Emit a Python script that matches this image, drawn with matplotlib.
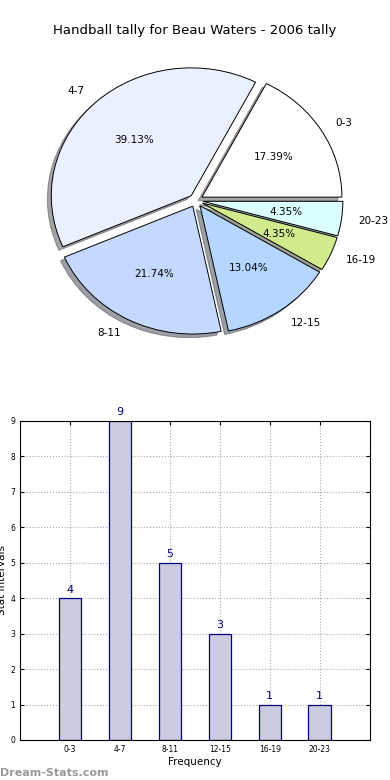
import matplotlib
matplotlib.use("Agg")
import matplotlib.pyplot as plt
import numpy as np

# data
intervals = ["0-3", "4-7", "8-11", "12-15", "16-19", "20-23"]
counts = [4, 9, 5, 3, 1, 1]
pie_colors = ["#FFFFFF", "#EAF0FF", "#C5D8FF", "#B5D6FF", "#D0EA8C", "#DCFFFF"]

fig = plt.figure(figsize=(3.9, 7.8), dpi=100)

# pie on top (old-style, not forced round)
ax1 = fig.add_axes([0.054, 0.538, 0.897, 0.41])
wedges, texts, autotexts = ax1.pie(counts, labels=intervals, colors=pie_colors,
                                   explode=[0.05] * 6, autopct="%.2f%%", shadow=True,
                                   startangle=0, counterclock=True, labeldistance=1.12,
                                   wedgeprops={"edgecolor": "black", "linewidth": 0.7},
                                   textprops={"fontsize": 7.5})
ax1.set_aspect("auto")
ax1.set_xlim(-1.25, 1.25)
ax1.set_ylim(-1.25, 1.25)
fig.text(0.5, 0.957, "Handball tally for Beau Waters - 2006 tally", ha="center", fontsize=9.5)

# bar chart below
ax2 = fig.add_axes([0.051, 0.0513, 0.897, 0.409])
x = np.arange(1, len(counts) + 1)
ax2.bar(x, counts, width=0.45, color="#CCCCE0", edgecolor="#000080", linewidth=0.9, zorder=2)
for xi, c in zip(x, counts):
    ax2.text(xi, c + 0.1, str(c), ha="center", va="bottom", color="#000080", fontsize=8)
ax2.set_xlim(0, 7)
ax2.set_ylim(0, 9)
ax2.set_xticks(x)
ax2.set_xticklabels(intervals)
ax2.set_yticks(range(10))
ax2.tick_params(labelsize=5.5, direction="in", top=True, right=True, length=3)
ax2.grid(True, linestyle=":", color="#AAAAAA", linewidth=0.8, zorder=0)
ax2.set_xlabel("Frequency", fontsize=7.5, labelpad=2)
ax2.set_ylabel("Stat Intervals", fontsize=7.5, labelpad=2)

fig.text(0.0, 0.005, "Dream-Stats.com", color="#999999", fontsize=8, fontweight="bold")

fig.savefig("out.png", dpi=100)
